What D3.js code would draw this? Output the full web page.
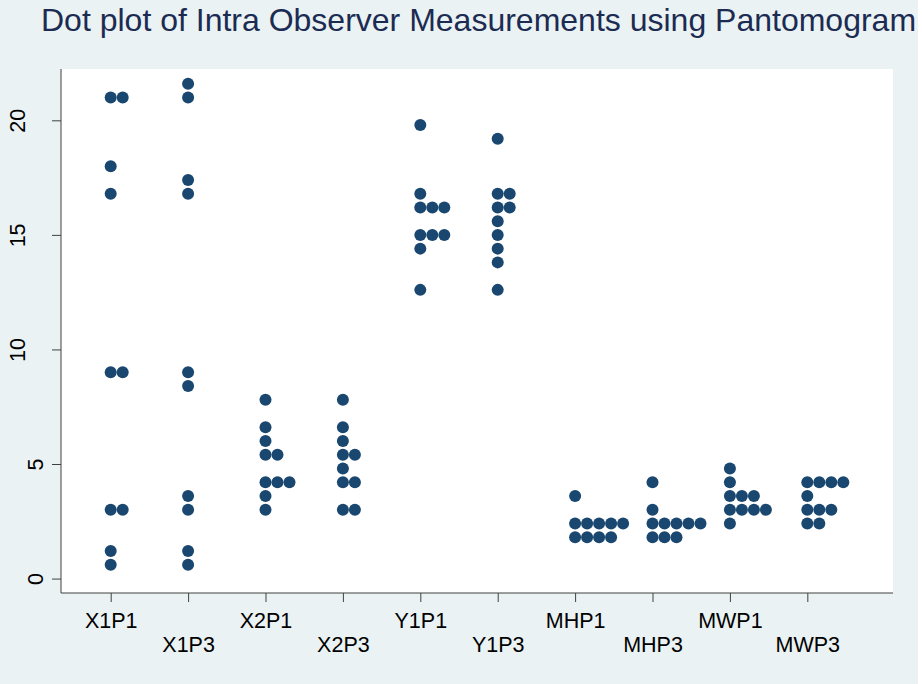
<!DOCTYPE html>
<html>
<head>
<meta charset="utf-8">
<script src="https://cdn.jsdelivr.net/npm/d3@7"></script>
<style>
  html, body { margin: 0; padding: 0; background: #ffffff; }
  svg { display: block; }
  text { font-family: "Liberation Sans", Arial, Helvetica, sans-serif; }
</style>
</head>
<body>
<svg id="chart" width="918" height="684"></svg>
<script>
// ---- data ----
const titleText = "Dot plot of Intra Observer Measurements using Pantomogram";
const categories = ["X1P1", "X1P3", "X2P1", "X2P3", "Y1P1", "Y1P3", "MHP1", "MHP3", "MWP1", "MWP3"];
const X1P1 = [21, 21, 18, 16.8, 9, 9, 3, 3, 1.2, 0.6];
const X1P3 = [21.6, 21, 17.4, 16.8, 9, 8.4, 3.6, 3, 1.2, 0.6];
const X2P1 = [7.8, 6.6, 6, 5.4, 5.4, 4.2, 4.2, 4.2, 3.6, 3];
const X2P3 = [7.8, 6.6, 6, 5.4, 5.4, 4.8, 4.2, 4.2, 3, 3];
const Y1P1 = [19.8, 16.8, 16.2, 16.2, 16.2, 15, 15, 15, 14.4, 12.6];
const Y1P3 = [19.2, 16.8, 16.8, 16.2, 16.2, 15.6, 15, 14.4, 13.8, 12.6];
const MHP1 = [3.6, 2.4, 2.4, 2.4, 2.4, 2.4, 1.8, 1.8, 1.8, 1.8];
const MHP3 = [4.2, 3, 2.4, 2.4, 2.4, 2.4, 2.4, 1.8, 1.8, 1.8];
const MWP1 = [4.8, 4.2, 3.6, 3.6, 3.6, 3, 3, 3, 3, 2.4];
const MWP3 = [4.2, 4.2, 4.2, 4.2, 3.6, 3, 3, 3, 2.4, 2.4];
const yTicks = [0, 5, 10, 15, 20];

const seriesValues = [X1P1, X1P3, X2P1, X2P3, Y1P1, Y1P3, MHP1, MHP3, MWP1, MWP3];

// ---- layout ----
const svg = d3.select("#chart");
const W = 918, H = 684;
const plot = { left: 61, right: 893, top: 69, bottom: 593 };

svg.append("rect").attr("x", 0).attr("y", 0).attr("width", W).attr("height", H).attr("fill", "#eaf2f3");
svg.append("rect")
  .attr("x", plot.left).attr("y", plot.top)
  .attr("width", plot.right - plot.left).attr("height", plot.bottom - plot.top)
  .attr("fill", "#ffffff");

// scales: category index (1..10) on x, measurement on y
const x = d3.scaleLinear().domain([0.358, 11.107]).range([plot.left, plot.right]);
const y = d3.scaleLinear().domain([-0.63, 22.24]).range([plot.bottom, plot.top]);
const stackStep = 0.155; // horizontal step between stacked dots, in x units

// title
svg.append("text")
  .attr("x", 41).attr("y", 31)
  .attr("font-size", 32)
  .attr("fill", "#1c2b52")
  .text(titleText);

// y axis
const yAxis = d3.axisLeft(y).tickValues(yTicks).tickSize(9).tickPadding(0).tickFormat(d3.format("d"));
const gy = svg.append("g").attr("transform", `translate(${plot.left},0)`).call(yAxis);
gy.select(".domain").attr("stroke", "#404040").attr("d", `M0,${plot.top}V${plot.bottom}`);
gy.selectAll(".tick line").attr("stroke", "#404040");
gy.selectAll(".tick text")
  .attr("font-size", 21.5)
  .attr("fill", "#000")
  .attr("text-anchor", "middle")
  .attr("dy", null)
  .attr("x", null)
  .attr("transform", function (d) {
    const n = String(d).length;
    const bx = -18 - (n - 1) * 18.5;
    return `translate(${bx},0) rotate(-90)`;
  })
  .attr("y", 0);

// x axis
const xAxis = d3.axisBottom(x)
  .tickValues(d3.range(1, categories.length + 1))
  .tickSize(9).tickPadding(0)
  .tickFormat(i => categories[i - 1]);
const gx = svg.append("g").attr("transform", `translate(0,${plot.bottom})`).call(xAxis);
gx.select(".domain").attr("stroke", "#404040").attr("d", `M${plot.left},0H${plot.right}`);
gx.selectAll(".tick line").attr("stroke", "#404040");
gx.selectAll(".tick text")
  .attr("font-size", 21.5)
  .attr("fill", "#000")
  .attr("dy", null)
  .attr("y", (d, i) => (i % 2 === 0 ? 35 : 59));
gx.selectAll("text").attr("font-family", "\"Liberation Sans\", Arial, sans-serif");
gy.selectAll("text").attr("font-family", "\"Liberation Sans\", Arial, sans-serif");

// dots: stack equal values side by side
const dots = [];
seriesValues.forEach((vals, si) => {
  const counts = new Map();
  vals.forEach(v => {
    const k = counts.get(v) || 0;
    counts.set(v, k + 1);
    dots.push({ cat: si + 1, value: v, k });
  });
});

svg.append("g").selectAll("circle")
  .data(dots)
  .join("circle")
  .attr("cx", d => x(d.cat + d.k * stackStep))
  .attr("cy", d => y(d.value))
  .attr("r", 6)
  .attr("fill", "#1a476f");
</script>
</body>
</html>
